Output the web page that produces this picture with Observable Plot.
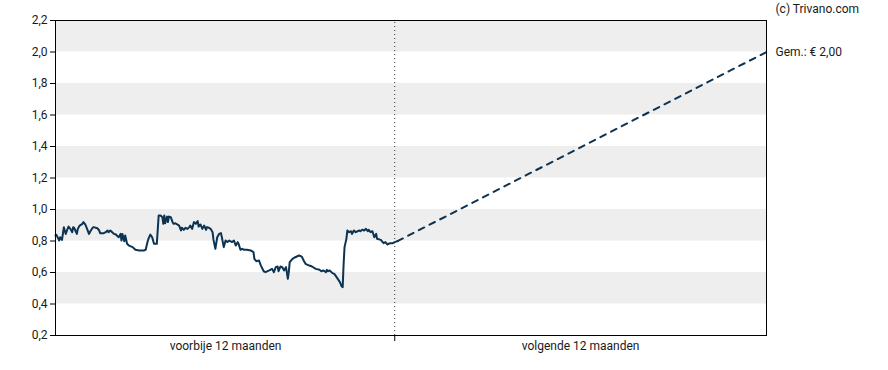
<!DOCTYPE html>
<html>
<head>
<meta charset="utf-8">
<script src="https://cdn.jsdelivr.net/npm/d3@7"></script>
<script src="https://cdn.jsdelivr.net/npm/@observablehq/plot@0.6"></script>
<style>
  html, body { margin: 0; padding: 0; background: #fff; }
  #chart svg { display: block; }
</style>
</head>
<body>
<div id="chart"></div>
<script>
// Past 12 months: day offset relative to today, and share price (EUR)
const pastDays = [-365,-364,-361,-360,-358,-356,-354,-352,-351,-349,-347,-346,-345,-342,-341,-339,-336,-335,-333,-331,-329,-327,-325,-324,-320,-318,-317,-313,-311,-309,-308,-306,-304,-302,-300,-299,-297,-295,-294,-293,-291,-290,-288,-286,-282,-279,-275,-270,-268,-266,-265,-263,-261,-259,-256,-254,-252,-250,-249,-248,-247,-245,-244,-243,-241,-239,-238,-236,-234,-232,-230,-229,-227,-225,-223,-221,-220,-218,-216,-214,-212,-211,-209,-207,-205,-203,-202,-200,-198,-196,-195,-193,-191,-189,-187,-186,-184,-182,-180,-178,-177,-175,-173,-171,-169,-168,-166,-164,-162,-159,-155,-152,-151,-149,-146,-144,-141,-139,-135,-132,-130,-128,-126,-125,-123,-121,-119,-117,-115,-114,-113,-110,-107,-103,-100,-98,-96,-92,-89,-85,-81,-79,-77,-74,-73,-72,-70,-67,-65,-62,-59,-57,-56,-55,-54,-52,-51,-49,-47,-46,-44,-42,-40,-38,-37,-35,-33,-31,-29,-28,-26,-24,-22,-20,-19,-15,-12,-10,-8,-5,-2,0,3];
const pastPrices = [0.835,0.839,0.803,0.824,0.807,0.888,0.845,0.877,0.892,0.877,0.856,0.888,0.884,0.845,0.877,0.898,0.909,0.920,0.905,0.877,0.845,0.867,0.884,0.888,0.881,0.867,0.850,0.850,0.856,0.867,0.856,0.867,0.856,0.845,0.841,0.835,0.824,0.845,0.803,0.845,0.799,0.835,0.782,0.771,0.761,0.744,0.740,0.740,0.744,0.793,0.814,0.841,0.824,0.782,0.782,0.962,0.962,0.951,0.909,0.962,0.913,0.955,0.920,0.955,0.951,0.920,0.909,0.913,0.905,0.898,0.867,0.884,0.871,0.884,0.877,0.888,0.898,0.877,0.920,0.909,0.926,0.892,0.905,0.877,0.898,0.871,0.888,0.884,0.877,0.856,0.807,0.750,0.824,0.845,0.850,0.824,0.761,0.803,0.793,0.803,0.799,0.793,0.803,0.771,0.793,0.782,0.744,0.750,0.744,0.744,0.740,0.729,0.687,0.672,0.676,0.644,0.608,0.602,0.613,0.623,0.602,0.634,0.638,0.608,0.638,0.634,0.613,0.634,0.560,0.602,0.666,0.687,0.697,0.708,0.701,0.676,0.655,0.644,0.638,0.623,0.617,0.608,0.613,0.602,0.617,0.608,0.613,0.596,0.591,0.566,0.539,0.511,0.507,0.655,0.761,0.814,0.867,0.856,0.862,0.845,0.867,0.856,0.862,0.867,0.862,0.871,0.867,0.877,0.862,0.871,0.856,0.862,0.824,0.845,0.814,0.807,0.786,0.793,0.778,0.786,0.786,0.793,0.799];

// Target (koersdoel) in 12 months
const targetDay = 400;
const targetPrice = 2.00;
const targetLabel = "Gem.: € 2,00";

const yTicks = [0.2, 0.4, 0.6, 0.8, 1.0, 1.2, 1.4, 1.6, 1.8, 2.0, 2.2];
const bandLows = [0.4, 0.8, 1.2, 1.6, 2.0];
const periodLabels = ["voorbije 12 maanden", "volgende 12 maanden"];
const periodCenters = [-182, 200];
const credit = "(c) Trivano.com";

const past = pastDays.map((d, i) => ({day: d, price: pastPrices[i]}));
const last = past[past.length - 1];
const forecast = [{day: last.day, price: last.price}, {day: targetDay, price: targetPrice}];
const bands = bandLows.map(v => ({y1: v, y2: +(v + 0.2).toFixed(1)}));
const labels = periodLabels.map((t, i) => ({t, day: periodCenters[i]}));

const fmt = d => d.toFixed(1).replace(".", ",");
const lineColor = "#0d3352";
const font = "Roboto, 'Liberation Sans', sans-serif";

const chart = Plot.plot({
  width: 888,
  height: 370,
  marginLeft: 55,
  marginRight: 122,
  marginTop: 20,
  marginBottom: 35,
  style: {fontFamily: font, fontSize: "12px", color: "#1a1a1a", background: "#fff"},
  x: {domain: [-365, targetDay], axis: null},
  y: {domain: [0.2, 2.2], axis: null},
  marks: [
    Plot.rectY(bands, {x1: -365, x2: targetDay, y1: "y1", y2: "y2", fill: "#eeeeee"}),
    Plot.ruleX([0], {y1: 0.2, y2: 2.2, stroke: "#333", strokeDasharray: "1,3", strokeWidth: 1}),
    Plot.axisY({ticks: yTicks, tickFormat: fmt, tickSize: 5, tickPadding: 3, fontSize: 12, stroke: "#000", fill: "#1a1a1a", label: null}),
    Plot.axisX({ticks: [0], tickFormat: () => "", tickSize: 6, stroke: "#000", label: null}),
    Plot.text(labels, {x: "day", text: "t", frameAnchor: "bottom", dy: 14, fontSize: 12, fill: "#1a1a1a"}),
    Plot.line(forecast, {x: "day", y: "price", stroke: lineColor, strokeWidth: 2, strokeDasharray: "6,6"}),
    Plot.line(past, {x: "day", y: "price", stroke: lineColor, strokeWidth: 2, strokeLinejoin: "round"}),
    Plot.frame({stroke: "#000", strokeWidth: 1}),
    Plot.text([targetLabel], {x: targetDay, y: targetPrice, dx: 9, textAnchor: "start", fontSize: 12, fill: "#1a1a1a"}),
    Plot.text([credit], {x: targetDay, y: 2.2, dx: 9, dy: -11, textAnchor: "start", fontSize: 12, fill: "#1a1a1a"})
  ]
});
document.getElementById("chart").appendChild(chart);
</script>
</body>
</html>
